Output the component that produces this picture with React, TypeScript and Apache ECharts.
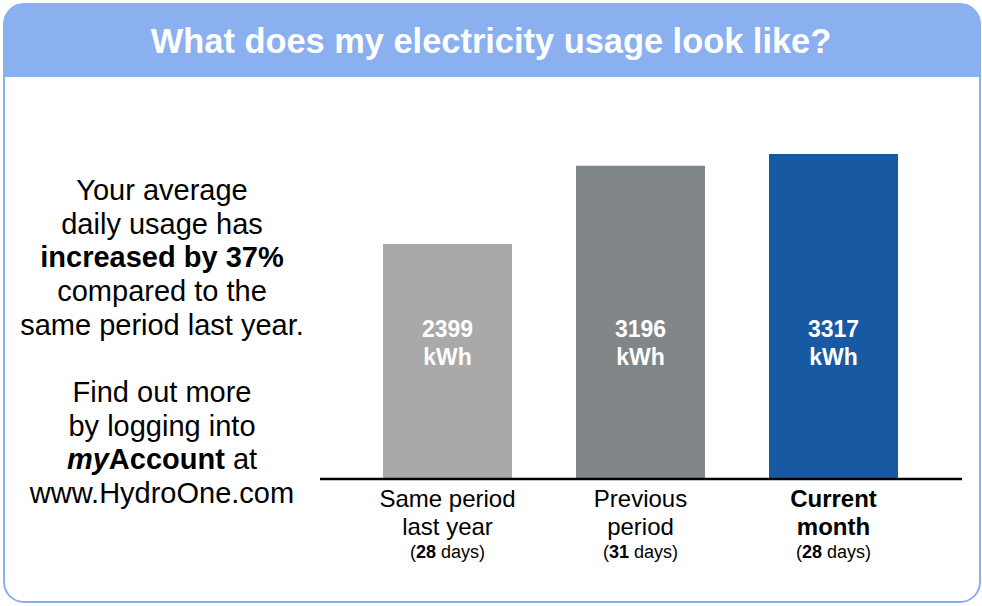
import React, { useEffect, useRef } from "react";
import * as echarts from "echarts";

const title = "What does my electricity usage look like?";
const categories = ["Same period\nlast year", "Previous\nperiod", "Current\nmonth"];
const days = [28, 31, 28];
const usage = [2399, 3196, 3317];
const barColors = ["#A9A9A9", "#818689", "#1859A3"];
const currentIndex = 2;
const sideText = [
  "Your average",
  "daily usage has",
  "{b|increased by 37%}",
  "compared to the",
  "same period last year.",
  "",
  "Find out more",
  "by logging into",
  "{bi|my}{b|Account} at",
  "www.HydroOne.com",
];

const FONT = "'Liberation Sans', Arial, Helvetica, sans-serif";

export default function App() {
  const ref = useRef<HTMLDivElement>(null);
  useEffect(() => {
    if (!ref.current) return;
    const chart = echarts.init(ref.current, null, { renderer: "svg" });
    const axisY = 479;
    const sideSize = 29;
    const sideLH = 33.7;
    chart.setOption({
      animation: false,
      backgroundColor: "#ffffff",
      textStyle: { fontFamily: FONT },
      graphic: [
        {
          type: "rect",
          z: 0,
          shape: { x: 4, y: 4, width: 976, height: 598, r: 20 },
          style: { fill: "#ffffff", stroke: "#8AB0EF", lineWidth: 2 },
        },
        {
          type: "rect",
          z: 1,
          shape: { x: 4, y: 4, width: 976, height: 73, r: [20, 20, 0, 0] },
          style: { fill: "#8AB0EF" },
        },
        {
          type: "text",
          z: 2,
          x: 491,
          y: 41,
          style: {
            text: title,
            fill: "#ffffff",
            font: `bold 34.4px ${FONT}`,
            align: "center",
            verticalAlign: "middle",
          },
        },
        {
          type: "text",
          z: 2,
          x: 162,
          y: 173,
          style: {
            text: sideText.join("\n"),
            fill: "#000000",
            fontFamily: FONT,
            fontSize: sideSize,
            lineHeight: sideLH,
            align: "center",
            verticalAlign: "top",
            rich: {
              b: { fontWeight: "bold", fontSize: sideSize, lineHeight: sideLH, fontFamily: FONT },
              bi: { fontWeight: "bold", fontStyle: "italic", fontSize: sideSize, lineHeight: sideLH, fontFamily: FONT },
            },
          },
        },
        {
          type: "line",
          z: 5,
          shape: { x1: 320, y1: axisY, x2: 962, y2: axisY },
          style: { stroke: "#000000", lineWidth: 2.5 },
        },
      ],
      grid: { left: 351, right: 982 - 930, top: 136, bottom: 606 - axisY, containLabel: false },
      xAxis: {
        type: "category",
        data: categories,
        axisLine: { show: false },
        axisTick: { show: false },
        axisLabel: {
          interval: 0,
          margin: 5,
          color: "#000000",
          formatter: (v: string, i: number) => {
            const nameStyle = i === currentIndex ? "nb" : "n";
            const lines = v.split("\n").map((l) => `{${nameStyle}|${l}}`);
            return lines.join("\n") + `\n{p|(}{d|${days[i]}}{p| days)}`;
          },
          rich: {
            n: { fontSize: 24, lineHeight: 28, color: "#000", fontFamily: FONT },
            nb: { fontSize: 24, lineHeight: 28, color: "#000", fontWeight: "bold", fontFamily: FONT },
            p: { fontSize: 18, lineHeight: 24, color: "#000", fontFamily: FONT },
            d: { fontSize: 18, lineHeight: 24, color: "#000", fontWeight: "bold", fontFamily: FONT },
          },
        },
      },
      yAxis: {
        type: "value",
        min: 0,
        max: 3500,
        show: false,
        splitLine: { show: false },
      },
      series: [
        {
          type: "bar",
          barWidth: 129,
          data: usage.map((v, i) => ({ value: v, itemStyle: { color: barColors[i] } })),
          label: {
            show: true,
            position: "insideBottom",
            distance: 108,
            color: "#ffffff",
            fontWeight: "bold",
            fontSize: 23,
            lineHeight: 28,
            fontFamily: FONT,
            formatter: (p: any) => `${p.value}\nkWh`,
          },
        },
      ],
    });
    return () => chart.dispose();
  }, []);
  return (
    <div
      ref={ref}
      style={{ position: "fixed", left: 0, top: 0, width: 982, height: 606 }}
    />
  );
}
